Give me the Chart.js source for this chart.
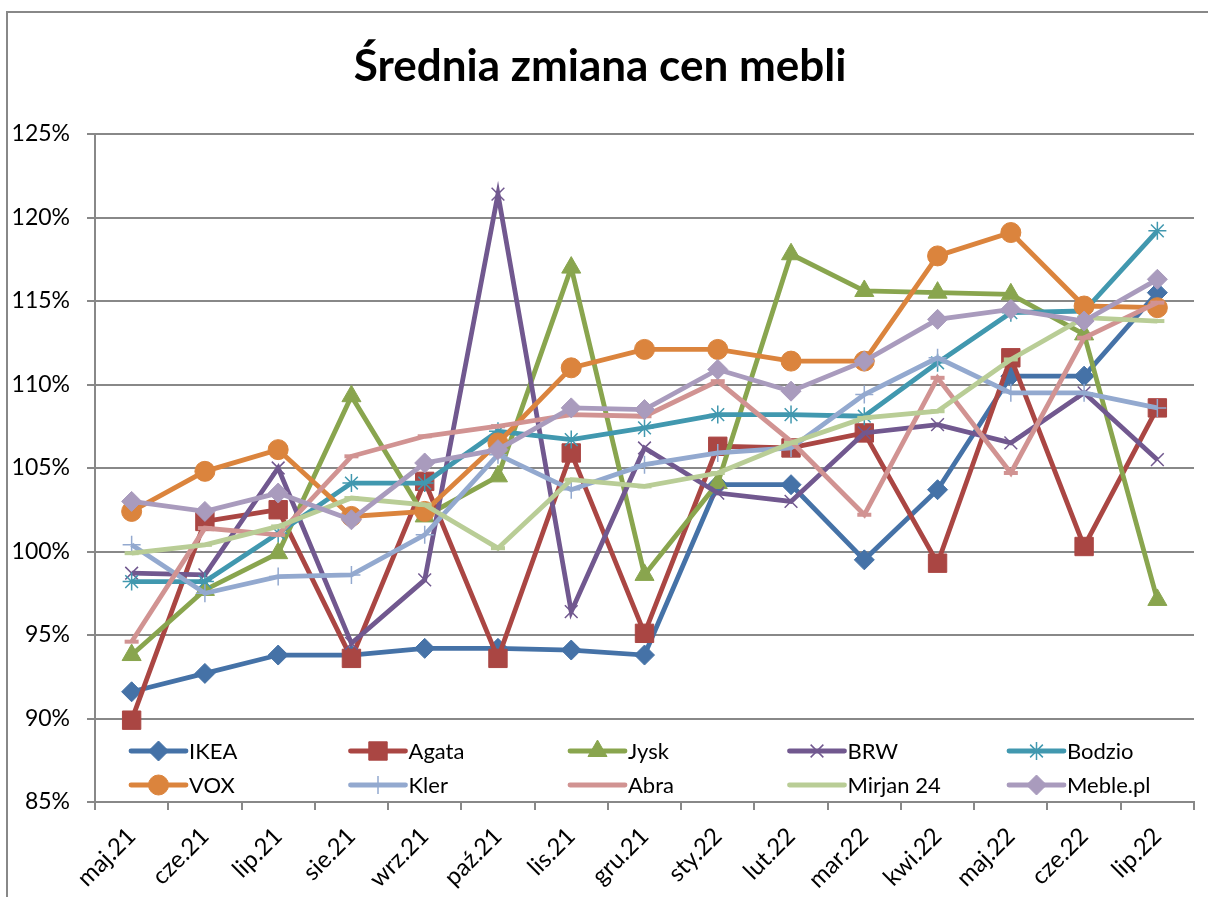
<!DOCTYPE html>
<html>
<head>
<meta charset="utf-8">
<script src="https://cdn.jsdelivr.net/npm/chart.js@4.4.1/dist/chart.umd.min.js"></script>
<style>
  html, body { margin: 0; padding: 0; background: #fff; }
  #wrap { width: 1208px; height: 897px; position: relative; }
</style>
</head>
<body>
<div id="wrap"><canvas id="c" width="1208" height="897"></canvas></div>
<script>
const categories = ['maj.21','cze.21','lip.21','sie.21','wrz.21','paź.21','lis.21','gru.21','sty.22','lut.22','mar.22','kwi.22','maj.22','cze.22','lip.22'];
const yTicks = [85, 90, 95, 100, 105, 110, 115, 120, 125];

const seriesNames = ['IKEA','Agata','Jysk','BRW','Bodzio','VOX','Kler','Abra','Mirjan 24','Meble.pl'];
const ikea   = [91.6, 92.7, 93.8, 93.8, 94.2, 94.2, 94.1, 93.8, 104.0, 104.0, 99.5, 103.7, 110.5, 110.5, 115.5];
const agata  = [89.9, 101.8, 102.5, 93.6, 104.2, 93.6, 105.9, 95.1, 106.3, 106.2, 107.1, 99.3, 111.6, 100.3, 108.6];
const jysk   = [93.8, 97.7, 99.9, 109.3, 102.1, 104.5, 117.0, 98.6, 104.1, 117.8, 115.6, 115.5, 115.4, 113.0, 97.1];
const brw    = [98.7, 98.6, 105.0, 94.5, 98.3, 121.4, 96.4, 106.2, 103.5, 103.0, 107.1, 107.6, 106.5, 109.5, 105.5];
const bodzio = [98.2, 98.2, 101.1, 104.1, 104.1, 107.2, 106.7, 107.4, 108.2, 108.2, 108.1, 111.3, 114.3, 114.4, 119.2];
const vox    = [102.4, 104.8, 106.1, 102.1, 102.4, 106.5, 111.0, 112.1, 112.1, 111.4, 111.4, 117.7, 119.1, 114.7, 114.6];
const kler   = [100.4, 97.5, 98.5, 98.6, 101.0, 105.8, 103.7, 105.2, 105.9, 106.2, 109.4, 111.6, 109.5, 109.5, 108.6];
const abra   = [94.6, 101.4, 101.0, 105.7, 106.9, 107.5, 108.2, 108.1, 110.2, 106.6, 102.2, 110.4, 104.7, 112.8, 114.9];
const mirjan = [99.9, 100.4, 101.5, 103.2, 102.8, 100.2, 104.3, 103.9, 104.7, 106.5, 108.0, 108.4, 111.5, 114.0, 113.8];
const meble  = [103.0, 102.4, 103.5, 101.9, 105.3, 106.1, 108.6, 108.5, 110.9, 109.6, 111.4, 113.9, 114.5, 113.8, 116.3];

const seriesValues = [ikea, agata, jysk, brw, bodzio, vox, kler, abra, mirjan, meble];
const colors = ['#4572A7','#AA4643','#89A54E','#71588F','#4198AF','#DB843D','#93A9CF','#D19392','#B9CD96','#A99BBD'];
const styles = [
  {ps:'rectRot',  r:10, bw:1},
  {ps:'rect',     r:13, bw:1},
  {ps:'triangle', r:11, bw:1},
  {ps:'crossRot', r:9,  bw:1.5},
  {ps:'star',     r:9,  bw:1.5},
  {ps:'circle',   r:10, bw:1},
  {ps:'cross',    r:9,  bw:1.5},
  {ps:'line',     r:7,  bw:4},
  {ps:'line',     r:7,  bw:4},
  {ps:'rectRot',  r:10, bw:1}
];

const FONT = 'Lato, "Open Sans", sans-serif';

const datasets = seriesNames.map((name, i) => ({
  label: name,
  data: seriesValues[i],
  borderColor: colors[i],
  backgroundColor: colors[i],
  borderWidth: 4.8,
  pointStyle: styles[i].ps,
  pointRadius: styles[i].r,
  pointHoverRadius: styles[i].r,
  pointBorderWidth: styles[i].bw,
  pointBackgroundColor: colors[i],
  pointBorderColor: colors[i],
  tension: 0,
  order: 20 - i
}));

const frame = {
  id: 'frame',
  beforeDraw(chart) {
    const ctx = chart.ctx;
    ctx.save();
    ctx.fillStyle = '#fff';
    ctx.fillRect(0, 0, chart.width, chart.height);
    ctx.strokeStyle = '#888';
    ctx.lineWidth = 2;
    ctx.strokeRect(7, 12, 1300, 1000);
    ctx.restore();
  }
};

const customLegend = {
  id: 'customLegend',
  afterDraw(chart) {
    const ctx = chart.ctx;
    ctx.save();
    chart.data.datasets.forEach((ds, i) => {
      const row = Math.floor(i / 5), col = i % 5;
      const x0 = 131 + col * 219.5;
      const y = 751 + row * 34;
      ctx.strokeStyle = ds.borderColor;
      ctx.lineWidth = 4.8;
      ctx.lineCap = 'round';
      ctx.beginPath();
      ctx.moveTo(x0, y);
      ctx.lineTo(x0 + 55, y);
      ctx.stroke();
      const opts = {
        pointStyle: ds.pointStyle,
        radius: ds.pointRadius,
        rotation: 0,
        borderWidth: ds.pointBorderWidth
      };
      ctx.fillStyle = ds.pointBackgroundColor;
      ctx.strokeStyle = ds.pointBorderColor;
      ctx.lineWidth = ds.pointBorderWidth;
      ctx.lineCap = 'butt';
      if (Chart.helpers && Chart.helpers.drawPoint && ds.pointStyle !== 'line') {
        Chart.helpers.drawPoint(ctx, opts, x0 + 27.5, y);
      }
      ctx.fillStyle = '#000';
      ctx.font = '22px ' + FONT;
      ctx.textBaseline = 'middle';
      ctx.textAlign = 'left';
      ctx.fillText(ds.label, x0 + 58, y + 1);
    });
    ctx.restore();
  }
};

new Chart(document.getElementById('c'), {
  type: 'line',
  data: { labels: categories, datasets },
  plugins: [frame, customLegend],
  options: {
    responsive: false,
    animation: false,
    events: [],
    layout: { padding: { left: 0, right: 8, top: 0, bottom: 0 } },
    plugins: {
      legend: { display: false },
      tooltip: { enabled: false },
      title: {
        display: true,
        text: 'Średnia zmiana cen mebli',
        color: '#000',
        font: { family: FONT, size: 44, weight: 'bold', lineHeight: 1.2 },
        padding: { top: 40.6, bottom: 40.6 }
      }
    },
    scales: {
      x: {
        type: 'category',
        offset: true,
        afterFit(scale) { scale.height = 95; },
        grid: { offset: true, drawOnChartArea: false, drawTicks: true, tickLength: 8, color: '#888', lineWidth: 2 },
        border: { display: true, color: '#888', width: 2 },
        ticks: {
          autoSkip: false, maxRotation: 45, minRotation: 45,
          color: '#000', padding: 12,
          font: { family: FONT, size: 24 }
        }
      },
      y: {
        min: 85, max: 125,
        afterFit(scale) { scale.width = 95; },
        afterBuildTicks(scale) { scale.ticks = yTicks.map(v => ({ value: v })); },
        grid: { color: '#888', lineWidth: 2, drawTicks: true, tickLength: 8 },
        border: { display: true, color: '#888', width: 2 },
        ticks: {
          color: '#000', padding: 17,
          font: { family: FONT, size: 23 },
          callback: v => v + '%'
        }
      }
    }
  }
});
</script>
</body>
</html>
